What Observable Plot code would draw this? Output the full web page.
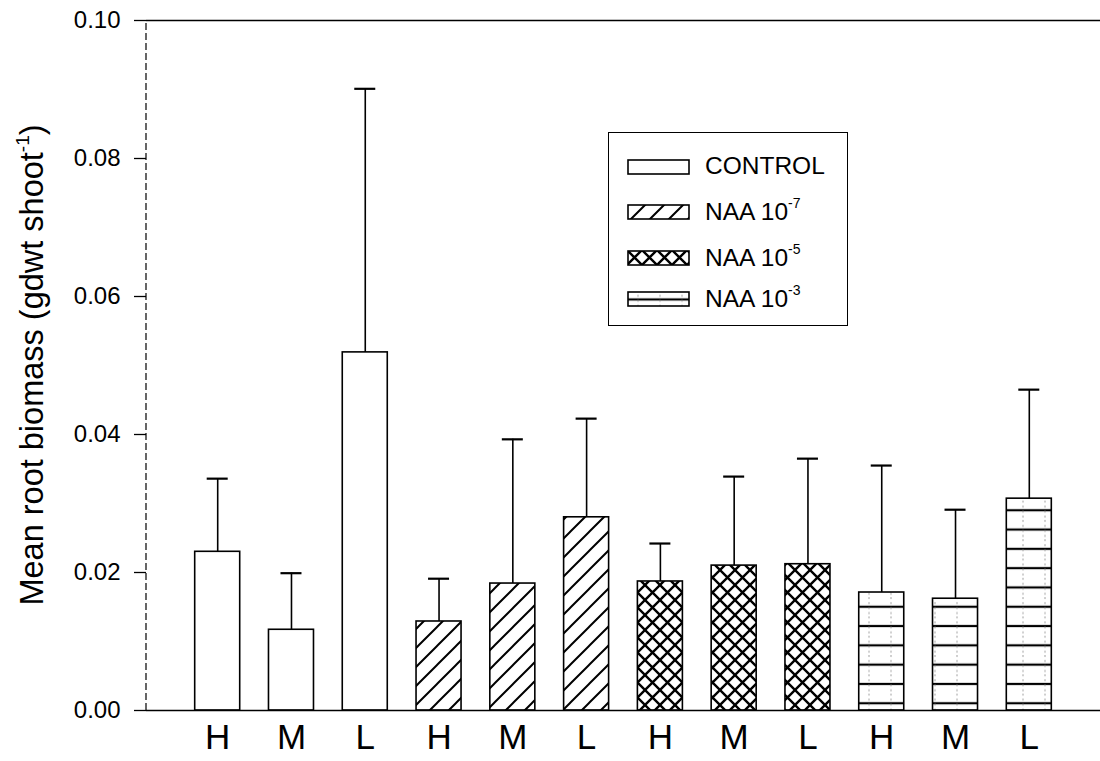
<!DOCTYPE html>
<html><head><meta charset="utf-8">
<script src="https://cdn.jsdelivr.net/npm/d3@7"></script>
<script src="https://cdn.jsdelivr.net/npm/@observablehq/plot@0.6"></script>
<style>
body{margin:0;background:#fff;font-family:"Liberation Sans",Arial,sans-serif;}
#wrap{position:relative;width:1100px;height:761px;overflow:hidden;}
#legend{position:absolute;left:608px;top:132px;width:240px;height:194px;border:1.5px solid #000;box-sizing:border-box;background:#fff;}
.row{position:absolute;left:18px;height:20px;display:flex;align-items:center;}
.row svg{width:63px;height:16px;display:block;}
.row span{position:absolute;left:78px;font-size:24.5px;white-space:nowrap;line-height:1;top:-3px;}
.row sup{font-size:14px;position:relative;top:-3px;}
</style></head><body><div id="wrap"></div>
<script>
const groups = ["CONTROL", "NAA 10-7", "NAA 10-5", "NAA 10-3"];
const groupExp = [null, "-7", "-5", "-3"];
const levels = ["H", "M", "L"];
const means = [0.0230, 0.0117, 0.0519, 0.0129, 0.0184, 0.0280, 0.0187, 0.0210, 0.0212, 0.0171, 0.0162, 0.0307];
const upper = [0.0336, 0.0199, 0.0901, 0.0191, 0.0393, 0.0423, 0.0242, 0.0339, 0.0365, 0.0355, 0.0291, 0.0465];
const yTicks = [0, 0.02, 0.04, 0.06, 0.08, 0.10];
const fills = ["white", "url(#hatch)", "url(#cross)", "url(#horiz)"];

const data = means.map((m, i) => ({key: i, gi: Math.floor(i / 3), level: levels[i % 3], mean: m, upper: upper[i]}));

const plot = Plot.plot({
  width: 1100, height: 761,
  marginLeft: 146, marginRight: 0, marginTop: 20, marginBottom: 51,
  style: {fontFamily: "Liberation Sans, Arial, sans-serif", background: "white", color: "black", overflow: "visible"},
  x: {type: "band", domain: data.map(d => d.key), paddingInner: 0.39, paddingOuter: 0.66, round: false, axis: null},
  y: {domain: [0, 0.1], axis: null},
  marks: [
    ...groups.map((g, gi) => Plot.barY(data.filter(d => d.gi === gi), {x: "key", y: "mean", fill: fills[gi], stroke: "black", strokeWidth: 1.6})),
    Plot.ruleX(data, {x: "key", y1: "mean", y2: "upper", stroke: "black", strokeWidth: 1.6}),
    Plot.tickY(data, {x: "key", y: "upper", insetLeft: 12, insetRight: 12, stroke: "black", strokeWidth: 2.2}),
    Plot.ruleY([0, 0.1], {stroke: "black", strokeWidth: 1.6}),
    Plot.axisY({ticks: yTicks, tickFormat: d3.format(".2f"), tickSize: 12, tickPadding: 14, fontSize: 24, label: null, strokeWidth: 1.3}),
    Plot.axisX({tickSize: 0, tickPadding: 14, fontSize: 35, tickFormat: k => levels[k % 3], label: null})
  ]
});

const svg = d3.select(plot);
const defs = svg.insert("defs", ":first-child");
const hatch = defs.append("pattern").attr("id", "hatch").attr("patternUnits", "userSpaceOnUse").attr("width", 19).attr("height", 19);
hatch.append("rect").attr("width", 19).attr("height", 19).attr("fill", "white");
hatch.append("path").attr("d", "M-5,5 L5,-5 M0,19 L19,0 M14,24 L24,14").attr("stroke", "black").attr("stroke-width", 2);
const cross = defs.append("pattern").attr("id", "cross").attr("patternUnits", "userSpaceOnUse").attr("width", 15).attr("height", 15);
cross.append("rect").attr("width", 15).attr("height", 15).attr("fill", "white");
cross.append("path").attr("d", "M-1,-1 L16,16 M16,-1 L-1,16").attr("stroke", "black").attr("stroke-width", 2.4);
const horiz = defs.append("pattern").attr("id", "horiz").attr("patternUnits", "userSpaceOnUse").attr("width", 22).attr("height", 19.3).attr("y", -1.2);
horiz.append("rect").attr("width", 22).attr("height", 19.3).attr("fill", "white");
horiz.append("path").attr("d", "M0,9.65 L22,9.65").attr("stroke", "black").attr("stroke-width", 2.2);
horiz.append("path").attr("d", "M11,0 L11,19.3").attr("stroke", "#888").attr("stroke-width", 0.8).attr("stroke-dasharray", "2,3");

// left axis line from the scales
const xs = plot.scale("x"), ys = plot.scale("y");
svg.append("line")
  .attr("x1", xs.range[0]).attr("x2", xs.range[0])
  .attr("y1", ys.apply(0)).attr("y2", ys.apply(0.1))
  .attr("stroke", "black").attr("stroke-width", 1.2).attr("stroke-dasharray", "7,3");

// y label with superscript
const yl = svg.append("text")
  .attr("transform", `translate(43,${(ys.apply(0) + ys.apply(0.1)) / 2}) rotate(-90)`)
  .attr("text-anchor", "middle").attr("font-size", 32.5).attr("fill", "black")
  .attr("font-family", "Liberation Sans, Arial, sans-serif");
yl.append("tspan").text("Mean root biomass (gdwt shoot");
yl.append("tspan").attr("font-size", 19).attr("dy", -14).text("-1");
yl.append("tspan").attr("dy", 14).text(")");

const wrap = document.getElementById("wrap");
wrap.appendChild(plot);

// legend
const legend = d3.select(wrap).append("div").attr("id", "legend");
const rowTops = [24, 69, 115, 156];
groups.forEach((g, gi) => {
  const row = legend.append("div").attr("class", "row").style("top", rowTops[gi] + "px");
  const s = row.append("svg").attr("viewBox", "0 0 63 16");
  s.append("rect").attr("x", 1).attr("y", 1).attr("width", 61).attr("height", 14)
    .attr("fill", fills[gi]).attr("stroke", "black").attr("stroke-width", 1.6);
  const sp = row.append("span");
  if (groupExp[gi] === null) sp.text(g);
  else { sp.append("tspan").text("NAA 10"); sp.append("sup").text(groupExp[gi]); }
});
</script>
</body></html>
